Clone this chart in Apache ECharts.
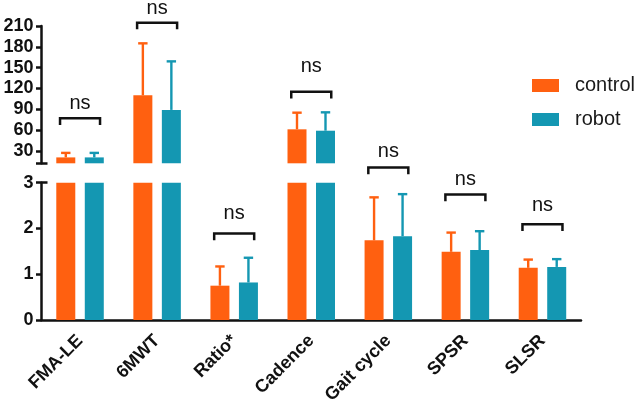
<!DOCTYPE html>
<html>
<head>
<meta charset="utf-8">
<script src="https://cdn.jsdelivr.net/npm/echarts@6/dist/echarts.min.js"></script>
<style>html,body{margin:0;padding:0;background:#fff;}#c{width:638px;height:408px;}</style>
</head>
<body>
<div id="c"></div>
<script>
// ---- data ----
const categories = ['FMA-LE', '6MWT', 'Ratio*', 'Cadence', 'Gait cycle', 'SPSR', 'SLSR'];
const controlMean = [20.5, 110, 0.75, 61, 1.74, 1.49, 1.14];
const controlSD   = [6.5, 75, 0.42, 24, 0.94, 0.42, 0.18];
const robotMean   = [20.5, 89, 0.82, 59, 1.83, 1.53, 1.16];
const robotSD     = [6.5, 70, 0.54, 26.5, 0.92, 0.41, 0.17];
// significance brackets: category index, bracket height, label height (axis units)
const bracketCat   = [0, 1, 2, 3, 4, 5, 6];
const bracketY     = [76.8, 214.8, 1.89, 115.2, 3.33, 2.74, 2.09];
const bracketTextY = [97.4, 234, 2.31, 150.8, 3.67, 3.04, 2.47];
const bracketText  = ['ns', 'ns', 'ns', 'ns', 'ns', 'ns', 'ns'];
// axes
const upperMin = 12, upperMax = 210;
const upperTicks = [30, 60, 90, 120, 150, 180, 210];
const lowerMin = 0, lowerMax = 3, lowerInterval = 1;

// ---- styles ----
const ORANGE = '#FF6010';
const TEAL = '#1497B2';
const INK = '#111111';
const FONT = "'Liberation Sans', Arial, Helvetica, sans-serif";
const BAR_W = 19, BAR_GAP = 9.5;
const OFF = (BAR_W + BAR_GAP) / 2;

function inUpper(v) { return v > lowerMax; }

function errData(means, sds, upper) {
  const out = [];
  means.forEach((m, i) => {
    if (inUpper(m) === upper) out.push([i, m, sds[i]]);
  });
  return out;
}

function errRender(offset, color) {
  return function (params, api) {
    const i = api.value(0), m = api.value(1), sd = api.value(2);
    const p0 = api.coord([i, m]);
    const p1 = api.coord([i, m + sd]);
    const x = p0[0] + offset;
    return {
      type: 'group',
      children: [
        { type: 'line', shape: { x1: x, y1: p0[1], x2: x, y2: p1[1] }, style: { stroke: color, lineWidth: 2.4 } },
        { type: 'line', shape: { x1: x - 4.7, y1: p1[1], x2: x + 4.7, y2: p1[1] }, style: { stroke: color, lineWidth: 2.4 } }
      ]
    };
  };
}

function bracketData(upper) {
  const out = [];
  bracketCat.forEach((c, k) => {
    if (inUpper(controlMean[c]) === upper) out.push([c, bracketY[k], bracketTextY[k], k]);
  });
  return out;
}

function bracketRender(params, api) {
  const i = api.value(0), yl = api.value(1), yt = api.value(2), k = api.value(3);
  const p = api.coord([i, yl]);
  const pt = api.coord([i, yt]);
  const cx = p[0], y = p[1], hw = 20, leg = 6.7;
  return {
    type: 'group',
    children: [
      { type: 'polyline', shape: { points: [[cx - hw, y + leg], [cx - hw, y], [cx + hw, y], [cx + hw, y + leg]] },
        style: { stroke: INK, lineWidth: 2.5, fill: null } },
      { type: 'text', style: { x: cx, y: pt[1] - 1, text: bracketText[k], fill: INK, font: '20px ' + FONT,
        textAlign: 'center', textVerticalAlign: 'middle' } }
    ]
  };
}

function axisLine() { return { show: true, lineStyle: { color: INK, width: 2.5 } }; }
function tickStyle() { return { color: INK, width: 2.5 }; }
function yLabel(extra) {
  return Object.assign({ color: INK, fontFamily: FONT, fontWeight: 'bold', fontSize: 18, margin: 8 }, extra || {});
}

const GRID_LEFT = 41.5, GRID_W = 539.5, PANEL_H = 137.3;

const option = {
  animation: false,
  backgroundColor: '#fff',
  legend: {
    orient: 'vertical', left: 527, top: 70.5,
    itemWidth: 27, itemHeight: 13, itemGap: 14,
    icon: 'rect',
    data: ['control', 'robot'],
    textStyle: { color: '#1a1a1a', fontFamily: FONT, fontSize: 20, padding: [0, 0, 0, 11] },
    selectedMode: false
  },
  grid: [
    { left: GRID_LEFT, top: 26, width: GRID_W, height: PANEL_H },
    { left: GRID_LEFT, top: 182.7, width: GRID_W, height: PANEL_H }
  ],
  xAxis: [
    { type: 'category', gridIndex: 0, data: categories, show: false },
    { type: 'category', gridIndex: 1, data: categories,
      axisLine: axisLine(),
      axisTick: { alignWithLabel: true, length: 5.5, lineStyle: tickStyle() },
      axisLabel: { rotate: 45, interval: 0, color: INK, fontFamily: FONT, fontWeight: 'bold', fontSize: 18, margin: 18 } }
  ],
  yAxis: [
    { type: 'value', gridIndex: 0, position: 'left', min: upperMin, max: upperMax,
      axisLine: axisLine(),
      axisTick: { show: true, length: 5.5, customValues: [upperMin].concat(upperTicks), lineStyle: tickStyle() },
      axisLabel: yLabel({ customValues: upperTicks }),
      splitLine: { show: false } },
    { type: 'value', gridIndex: 1, position: 'left', min: lowerMin, max: lowerMax, interval: lowerInterval,
      axisLine: axisLine(),
      axisTick: { show: true, length: 5.5, lineStyle: tickStyle() },
      axisLabel: yLabel(),
      splitLine: { show: false } },
    { type: 'value', gridIndex: 0, position: 'left', min: upperMin, max: upperMax,
      axisLine: { show: false },
      axisTick: { show: true, inside: true, length: 6, customValues: [upperMin], lineStyle: tickStyle() },
      axisLabel: { show: false }, splitLine: { show: false } },
    { type: 'value', gridIndex: 1, position: 'left', min: lowerMin, max: lowerMax,
      axisLine: { show: false },
      axisTick: { show: true, inside: true, length: 6, customValues: [lowerMax], lineStyle: tickStyle() },
      axisLabel: { show: false }, splitLine: { show: false } }
  ],
  series: [
    { name: 'control', type: 'bar', xAxisIndex: 0, yAxisIndex: 0, barWidth: BAR_W, barGap: '50%', clip: true,
      itemStyle: { color: ORANGE }, data: controlMean.map(v => inUpper(v) ? v : null) },
    { name: 'robot', type: 'bar', xAxisIndex: 0, yAxisIndex: 0, barWidth: BAR_W, barGap: '50%', clip: true,
      itemStyle: { color: TEAL }, data: robotMean.map(v => inUpper(v) ? v : null) },
    { name: 'control', type: 'bar', xAxisIndex: 1, yAxisIndex: 1, barWidth: BAR_W, barGap: '50%', clip: true,
      itemStyle: { color: ORANGE }, data: controlMean },
    { name: 'robot', type: 'bar', xAxisIndex: 1, yAxisIndex: 1, barWidth: BAR_W, barGap: '50%', clip: true,
      itemStyle: { color: TEAL }, data: robotMean },
    { type: 'custom', xAxisIndex: 0, yAxisIndex: 0, renderItem: errRender(-OFF, ORANGE), data: errData(controlMean, controlSD, true), silent: true, z: 1 },
    { type: 'custom', xAxisIndex: 0, yAxisIndex: 0, renderItem: errRender(OFF, TEAL), data: errData(robotMean, robotSD, true), silent: true, z: 1 },
    { type: 'custom', xAxisIndex: 1, yAxisIndex: 1, renderItem: errRender(-OFF, ORANGE), data: errData(controlMean, controlSD, false), silent: true, z: 1 },
    { type: 'custom', xAxisIndex: 1, yAxisIndex: 1, renderItem: errRender(OFF, TEAL), data: errData(robotMean, robotSD, false), silent: true, z: 1 },
    { type: 'custom', xAxisIndex: 0, yAxisIndex: 0, renderItem: bracketRender, data: bracketData(true), silent: true, clip: false },
    { type: 'custom', xAxisIndex: 1, yAxisIndex: 1, renderItem: bracketRender, data: bracketData(false), silent: true, clip: false }
  ]
};

const chart = echarts.init(document.getElementById('c'), null, { renderer: 'canvas' });
chart.setOption(option);
</script>
</body>
</html>
